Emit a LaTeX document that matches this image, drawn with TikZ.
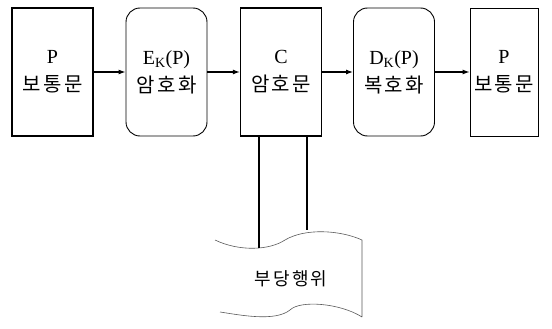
\documentclass[tikz,border=0pt]{standalone}
\usepackage{fontspec}
\setmainfont{Liberation Serif}
\newfontfamily\kr[LetterSpace=12]{Noto Sans CJK KR}
\usetikzlibrary{arrows.meta}
\begin{document}
\begin{tikzpicture}[x=1pt,y=-1pt,
  sqbox/.style={draw,line width=1.3pt,minimum width=81pt,minimum height=128pt,inner sep=0pt,align=center,font=\fontsize{20}{28}\selectfont},
  rdbox/.style={sqbox,line width=0.9pt,rounded corners=14pt},
  conn/.style={line width=1.1pt,-{Latex[length=7pt,width=5pt]}},
  wire/.style={line width=1.1pt}]
\useasboundingbox (0,0) rectangle (552,329);
\node[sqbox] (p1) at (52.5,72) {P\\{\kr 보통문}};
\node[rdbox] (e) at (166.5,72) {E\textsubscript{K}(P)\\{\kr 암호화}};
\node[sqbox] (c) at (281,72) {C\\{\kr 암호문}};
\node[rdbox] (d) at (394,72) {D\textsubscript{K}(P)\\{\kr 복호화}};
\node[sqbox,line width=0.8pt,minimum width=68pt] (p2) at (504,72) {P\\{\kr 보통문}};
\draw[conn] (p1) -- (e);
\draw[conn] (e) -- (c);
\draw[conn] (c) -- (d);
\draw[conn] (d) -- (p2);
% attack document
\draw[line width=0.6pt,gray!70!black]
  (215,240) .. controls (240,252) and (270,250) .. (285,240)
  .. controls (305,228) and (340,230) .. (362,240) -- (362,317)
  (362,317) .. controls (340,303) and (300,300) .. (290,310)
  .. controls (275,322) and (240,315) .. (220,312);
\node[font=\kr\fontsize{18}{22}\selectfont] (att) at (291,279) {부당행위};
\coordinate (a1) at (259,248);
\coordinate (a2) at (307,230);
\draw[wire] (c.south -| a1) -- (a1);
\draw[wire] (c.south -| a2) -- (a2);
\end{tikzpicture}
\end{document}
